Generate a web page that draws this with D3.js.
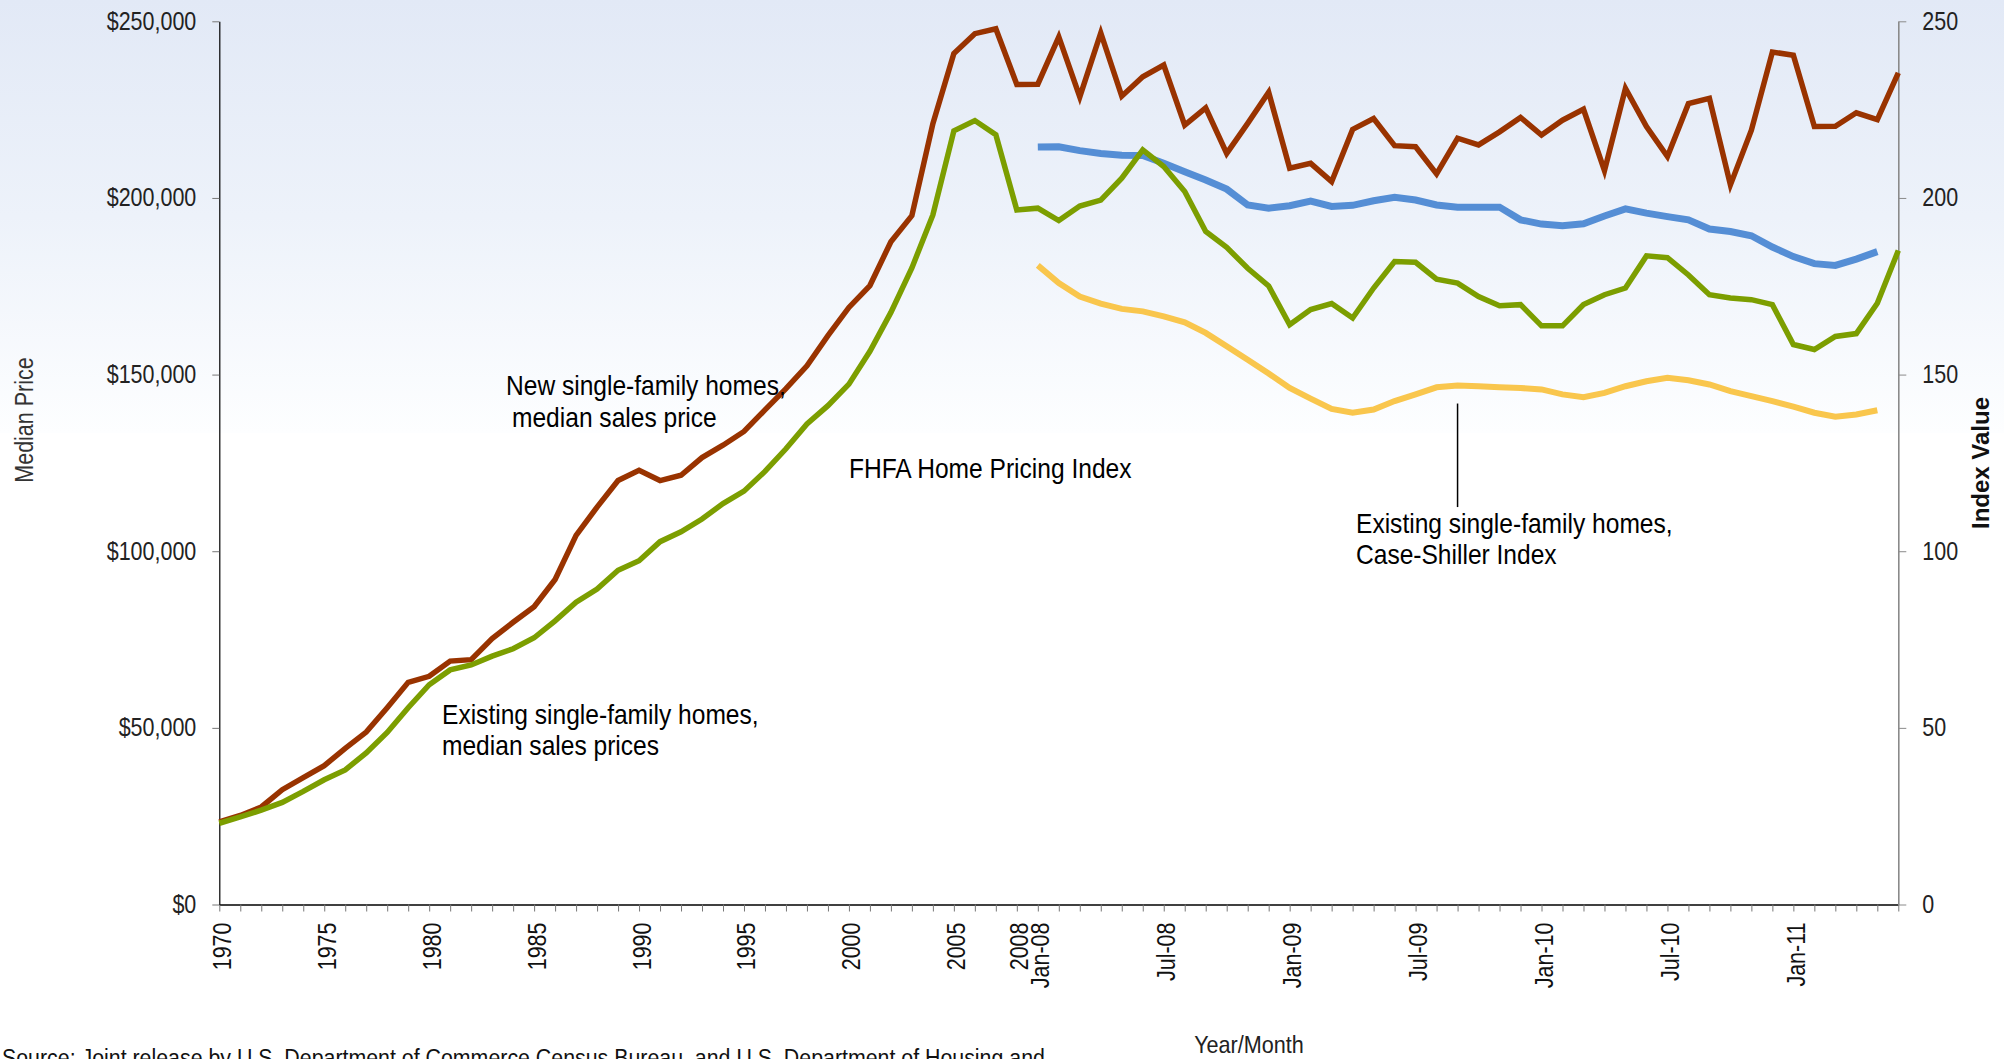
<!DOCTYPE html>
<html>
<head>
<meta charset="utf-8">
<script src="https://cdn.jsdelivr.net/npm/d3@7/dist/d3.min.js"></script>
<style>
  html, body { margin: 0; padding: 0; background: #ffffff; overflow: hidden; }
  svg { display: block; }
</style>
</head>
<body>
<svg id="chart" width="2004" height="1059"></svg>
<script>
// ---------------- DATA ----------------
const years = ["1970","1971","1972","1973","1974","1975","1976","1977","1978","1979",
  "1980","1981","1982","1983","1984","1985","1986","1987","1988","1989",
  "1990","1991","1992","1993","1994","1995","1996","1997","1998","1999",
  "2000","2001","2002","2003","2004","2005","2006","2007","2008"];
const months = ["Jan-08","Feb-08","Mar-08","Apr-08","May-08","Jun-08","Jul-08","Aug-08","Sep-08","Oct-08","Nov-08","Dec-08",
  "Jan-09","Feb-09","Mar-09","Apr-09","May-09","Jun-09","Jul-09","Aug-09","Sep-09","Oct-09","Nov-09","Dec-09",
  "Jan-10","Feb-10","Mar-10","Apr-10","May-10","Jun-10","Jul-10","Aug-10","Sep-10","Oct-10","Nov-10","Dec-10",
  "Jan-11","Feb-11","Mar-11","Apr-11","May-11","Jun-11"];
const categories = years.concat(months);

// New single-family homes, median sales price ($)
const newHomesYearly = [23400,25200,27600,32500,35900,39300,44200,48800,55700,62900,
  64600,68900,69300,75300,79900,84300,92000,104500,112500,120000,
  122900,120000,121500,126500,130000,133900,140000,146000,152500,161000,
  169000,175200,187600,195000,221000,240900,246500,247900,232100];
const newHomesMonthly = [232200,245600,228600,246700,228800,234300,237600,220600,225500,212600,221100,229900,
  208400,209800,204600,219400,222500,214800,214500,206800,216900,215000,218700,222800,
  217800,222000,225100,207700,231000,220200,211700,226700,228200,203700,219200,241300,
  240400,220200,220300,224100,222200,235400];

// Existing single-family homes, median sales prices ($)
const existingYearly = [23000,24800,26700,28900,32000,35300,38100,42900,48700,55700,
  62200,66400,67800,70300,72400,75500,80300,85600,89300,94600,
  97300,102700,105500,109100,113500,117000,122600,129000,136000,141200,
  147300,156600,167600,180200,195200,219000,221900,217900,196600];
const existingMonthly = [197100,193600,197700,199400,205600,213600,208900,201800,190500,186000,180100,175100,
  164100,168400,170100,166000,174500,182000,181800,177000,175900,172100,169500,169800,
  163800,163800,169800,172600,174500,183600,183100,178200,172600,171700,171200,169800,
  158500,157100,160800,161600,170200,185100];

// FHFA Home Pricing Index (index value), Jan-08 .. May-11
const fhfaMonths = months.slice(0, 41);
const fhfaIndex = [214.4,214.5,213.4,212.6,212.1,212.0,209.8,207.4,205.1,202.5,198.0,197.1,
  197.8,199.1,197.6,197.9,199.2,200.2,199.4,198.0,197.4,197.4,197.4,193.8,
  192.6,192.1,192.7,194.9,196.9,195.7,194.7,193.8,191.2,190.5,189.3,186.1,
  183.4,181.4,180.9,182.7,184.8];

// Case-Shiller Index (index value), Jan-08 .. May-11
const caseShillerIndex = [180.9,175.9,172.1,170.1,168.6,167.9,166.5,164.8,161.8,158.0,154.2,150.3,
  146.2,143.2,140.3,139.2,140.1,142.5,144.4,146.4,146.9,146.7,146.4,146.2,
  145.8,144.4,143.6,144.8,146.7,148.1,149.1,148.4,147.2,145.3,143.9,142.5,
  140.9,139.2,138.1,138.7,139.9];

// Axis ticks
const leftTicks = [0,50000,100000,150000,200000,250000];
const rightTicks = [0,50,100,150,200,250];
const xLabels = ["1970","1975","1980","1985","1990","1995","2000","2005","2008",
  "Jan-08","Jul-08","Jan-09","Jul-09","Jan-10","Jul-10","Jan-11"];

// ---------------- CHART ----------------
const W = 2004, H = 1059;
const SANS = "'Liberation Sans',Arial,Helvetica,sans-serif";
const SX = 0.86;   // horizontal condensing of axis text
const SXA = 0.91;  // horizontal condensing of annotation text

const svg = d3.select("#chart");

// background gradient
const defs = svg.append("defs");
const grad = defs.append("linearGradient").attr("id","bg").attr("x1",0).attr("y1",0).attr("x2",0).attr("y2",1);
grad.append("stop").attr("offset","0%").attr("stop-color","#e2e9f6");
grad.append("stop").attr("offset","50%").attr("stop-color","#edf2fa");
grad.append("stop").attr("offset","100%").attr("stop-color","#fdfeff");
svg.append("rect").attr("x",0).attr("y",0).attr("width",W).attr("height",H).attr("fill","#ffffff");
svg.append("rect").attr("x",0).attr("y",0).attr("width",W).attr("height",433).attr("fill","url(#bg)");

const x = d3.scalePoint().domain(categories).range([219.3, 1898.3]);
const yL = d3.scaleLinear().domain([0,250000]).range([904.5, 21.3]);
const yR = d3.scaleLinear().domain([0,250]).range([904.5, 21.3]);

// X axis
const xAxis = svg.append("g").attr("transform",`translate(0,${yL(0)})`)
  .call(d3.axisBottom(x).tickSize(7).tickSizeOuter(0)
    .tickFormat(d => xLabels.includes(d) ? d : ""));
xAxis.select(".domain").attr("stroke","#000").attr("stroke-width",1.4);
xAxis.selectAll(".tick line").attr("stroke","#777").attr("stroke-width",1);
xAxis.selectAll(".tick text")
  .attr("transform",`rotate(-90) scale(${SX},1)`)
  .attr("x",-18/SX).attr("y",0).attr("dy","0.44em")
  .style("text-anchor","end")
  .style("font-family",SANS).style("font-size","25px").attr("fill","#111");

// Left axis
const lAxis = svg.append("g").attr("transform",`translate(${x.range()[0]},0)`)
  .call(d3.axisLeft(yL).tickValues(leftTicks).tickSize(7).tickSizeOuter(0).tickPadding(16)
    .tickFormat(d => "$" + d3.format(",")(d)));
lAxis.select(".domain").attr("stroke","#000").attr("stroke-width",1.2);
lAxis.selectAll(".tick line").attr("stroke","#777");
lAxis.selectAll(".tick text")
  .attr("transform",`scale(${SX},1)`).attr("x",-23/SX)
  .style("font-family",SANS).style("font-size","25px").attr("fill","#222");

// Right axis
const rAxis = svg.append("g").attr("transform",`translate(${x.range()[1]},0)`)
  .call(d3.axisRight(yR).tickValues(rightTicks).tickSize(8).tickSizeOuter(0).tickPadding(16));
rAxis.select(".domain").attr("stroke","#8a8a8a").attr("stroke-width",1.6);
rAxis.selectAll(".tick line").attr("stroke","#8a8a8a");
rAxis.selectAll(".tick text")
  .attr("transform",`scale(${SX},1)`).attr("x",24/SX)
  .style("font-family",SANS).style("font-size","25px").attr("fill","#222");

// Axis titles
svg.append("text").attr("transform",`translate(33,420) rotate(-90) scale(${SX},1)`)
  .attr("text-anchor","middle").style("font-family",SANS).style("font-size","25px")
  .attr("fill","#333").text("Median Price");
svg.append("text").attr("transform","translate(1989,463) rotate(-90)")
  .attr("text-anchor","middle").style("font-family",SANS).style("font-size","24px")
  .style("font-weight","bold").attr("fill","#111").text("Index Value");
svg.append("text").attr("transform","translate(1249,1053) scale(0.9,1)").attr("text-anchor","middle")
  .style("font-family",SANS).style("font-size","24px").attr("fill","#222").text("Year/Month");
svg.append("text").attr("transform","translate(2,1066) scale(0.89,1)")
  .style("font-family",SANS).style("font-size","24px").attr("fill","#111")
  .text("Source:  Joint release by U.S. Department of Commerce Census Bureau, and U.S. Department of Housing and");

// Lines
const newHomes = newHomesYearly.concat(newHomesMonthly);
const existing = existingYearly.concat(existingMonthly);

const lineL = d3.line().x((d,i) => x(categories[i])).y(d => yL(d));
const lineR = d3.line().x((d,i) => x(fhfaMonths[i])).y(d => yR(d));

svg.append("path").datum(newHomes).attr("d",lineL)
  .attr("fill","none").attr("stroke","#993300").attr("stroke-width",5.5);
svg.append("path").datum(fhfaIndex).attr("d",lineR)
  .attr("fill","none").attr("stroke","#558ed5").attr("stroke-width",7);
svg.append("path").datum(caseShillerIndex).attr("d",lineR)
  .attr("fill","none").attr("stroke","#f9c64d").attr("stroke-width",6);
svg.append("path").datum(existing).attr("d",lineL)
  .attr("fill","none").attr("stroke","#7c9e00").attr("stroke-width",5.5);

// Leader line for Case-Shiller label
const leaderCat = "Sep-09";
const leaderIdx = fhfaMonths.indexOf(leaderCat);
svg.append("line")
  .attr("x1",x(leaderCat)).attr("x2",x(leaderCat))
  .attr("y1",yR(caseShillerIndex[leaderIdx]) + 18).attr("y2",yR(112.5))
  .attr("stroke","#000").attr("stroke-width",1.5);

// Annotations
const ann = [
  {x:506, y:395, t:"New single-family homes,"},
  {x:512, y:427, t:"median sales price"},
  {x:849, y:478, t:"FHFA Home Pricing Index"},
  {x:1356, y:533, t:"Existing single-family homes,"},
  {x:1356, y:564, t:"Case-Shiller Index"},
  {x:442, y:724, t:"Existing single-family homes,"},
  {x:442, y:755, t:"median sales prices"}
];
svg.append("g").selectAll("text").data(ann).join("text")
  .attr("transform",d => `translate(${d.x},${d.y}) scale(${SXA},1)`)
  .style("font-family",SANS).style("font-size","27px")
  .attr("fill","#000").text(d => d.t);
</script>
</body>
</html>
